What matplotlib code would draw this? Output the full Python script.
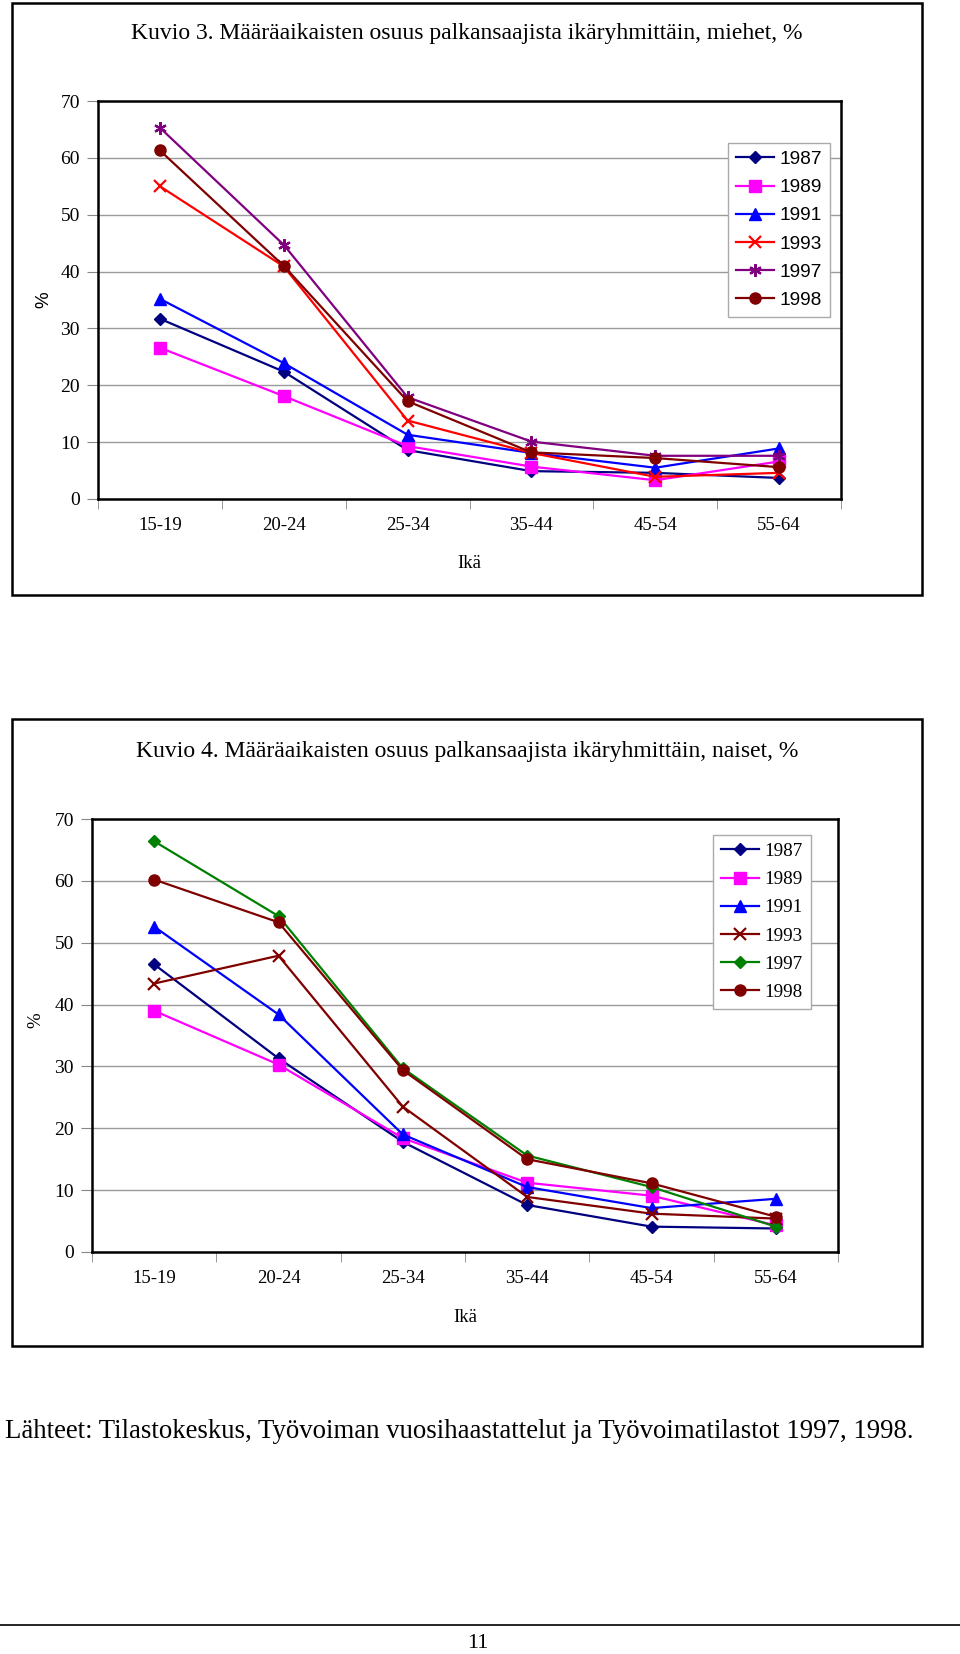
import numpy as np
import matplotlib.pyplot as plt
from matplotlib.patches import Rectangle
from matplotlib.lines import Line2D

# ikäryhmät ja vuodet
ages = ['15-19', '20-24', '25-34', '35-44', '45-54', '55-64']
years = ['1987', '1989', '1991', '1993', '1997', '1998']

# Kuvio 3: miehet, %
men_1987 = [31.7, 22.4, 8.6, 4.9, 4.6, 3.7]
men_1989 = [26.6, 18.1, 9.3, 5.7, 3.3, 6.6]
men_1991 = [35.2, 23.9, 11.3, 8.1, 5.5, 8.9]
men_1993 = [55.0, 40.9, 13.8, 8.1, 3.9, 4.6]
men_1997 = [65.3, 44.7, 17.9, 10.1, 7.6, 7.6]
men_1998 = [61.3, 41.0, 17.2, 8.2, 7.2, 5.6]

# Kuvio 4: naiset, %
women_1987 = [46.5, 31.3, 17.8, 7.6, 4.1, 3.8]
women_1989 = [39.0, 30.3, 18.4, 11.2, 9.1, 4.3]
women_1991 = [52.6, 38.4, 19.0, 10.5, 7.1, 8.6]
women_1993 = [43.4, 47.9, 23.5, 8.9, 6.2, 5.4]
women_1997 = [66.4, 54.3, 29.7, 15.6, 10.5, 4.1]
women_1998 = [60.2, 53.3, 29.4, 15.0, 11.1, 5.7]

men = [men_1987, men_1989, men_1991, men_1993, men_1997, men_1998]
women = [women_1987, women_1989, women_1991, women_1993, women_1997, women_1998]

# tyylit (väri, merkki, koko)
men_styles = [('#000080', 'D', 6), ('#ff00ff', 's', 8), ('#0000ff', '^', 8),
              ('#ff0000', 'x', 8), ('#800080', (6, 2, 0), 9), ('#800000', 'o', 8)]
women_styles = [('#000080', 'D', 6), ('#ff00ff', 's', 8), ('#0000ff', '^', 8),
                ('#800000', 'x', 8), ('#008000', 'D', 6), ('#800000', 'o', 8)]

W, H = 960, 1654
fig = plt.figure(figsize=(W / 100, H / 100), dpi=100)
serif = 'Liberation Serif'
sans = 'Liberation Sans'


def fx(px):
    return px / W


def fy(py):
    return 1 - py / H


def box(x0, y0, x1, y1):
    fig.patches.append(Rectangle((fx(x0), fy(y1)), fx(x1) - fx(x0), fy(y0) - fy(y1),
                                 transform=fig.transFigure, fill=False,
                                 edgecolor='black', linewidth=1.8))


def chart(left, top, right, bottom, data, styles, legend_font, leg_xy):
    ax = fig.add_axes([fx(left), fy(bottom), fx(right) - fx(left), fy(top) - fy(bottom)])
    x = np.arange(len(ages))
    for vals, (c, m, ms), y in zip(data, styles, years):
        mew = 1.6 if m in ('x', (6, 2, 0)) else 1
        ax.plot(x, vals, color=c, marker=m, markersize=ms, linewidth=1.6,
                markeredgewidth=mew, label=y)
    ax.set_xlim(-0.5, 5.5)
    ax.set_ylim(0, 70)
    ax.set_yticks(range(0, 71, 10))
    ax.set_xticks(x)
    ax.set_xticklabels(ages, family=serif, fontsize=13.5)
    ax.set_xticks(np.arange(-0.5, 6, 1), minor=True)
    ax.tick_params(axis='x', which='major', length=0, pad=13)
    ax.tick_params(axis='x', which='minor', length=7, color='#888888', direction='out')
    ax.tick_params(axis='y', length=8, color='#888888', pad=5, labelsize=14)
    for lab in ax.get_yticklabels():
        lab.set_family(serif)
    ax.grid(axis='y', color='#9a9a9a', linewidth=1)
    ax.set_axisbelow(True)
    for s in ax.spines.values():
        s.set_linewidth(1.8)
        s.set_color('black')
    leg = ax.legend(loc='upper left', bbox_to_anchor=(fx(leg_xy[0]), fy(leg_xy[1])),
                    bbox_transform=fig.transFigure, borderaxespad=0, fancybox=False,
                    edgecolor='#aaaaaa', framealpha=1, handlelength=2.0,
                    handletextpad=0.3, labelspacing=0.56, borderpad=0.4,
                    prop={'family': legend_font, 'size': 13.8})
    leg.get_frame().set_linewidth(1)
    return ax


# Kuvio 3
box(12, 3, 922, 595)
fig.text(fx(467), fy(34), 'Kuvio 3. Määräaikaisten osuus palkansaajista ikäryhmittäin, miehet, %',
         family=serif, fontsize=17, ha='center', va='center')
chart(98, 101, 841, 499, men, men_styles, sans, (728, 143))
fig.text(fx(44), fy(300), '%', family=sans, fontsize=13.5, rotation=90, ha='center', va='center')
fig.text(fx(469), fy(563), 'Ikä', family=serif, fontsize=13.5, ha='center', va='center')

# Kuvio 4
box(12, 719, 922, 1346)
fig.text(fx(467), fy(752), 'Kuvio 4. Määräaikaisten osuus palkansaajista ikäryhmittäin, naiset, %',
         family=serif, fontsize=17, ha='center', va='center')
chart(92, 819, 838, 1252, women, women_styles, serif, (713, 835))
fig.text(fx(36), fy(1020), '%', family=serif, fontsize=13.5, rotation=90, ha='center', va='center')
fig.text(fx(465), fy(1317), 'Ikä', family=serif, fontsize=13.5, ha='center', va='center')

# lähteet ja sivunumero
fig.text(fx(5), fy(1432), 'Lähteet: Tilastokeskus, Työvoiman vuosihaastattelut ja Työvoimatilastot 1997, 1998.',
         family=serif, fontsize=19.3, ha='left', va='center')
fig.lines.append(Line2D([0, 1], [fy(1625), fy(1625)], transform=fig.transFigure,
                        color='black', linewidth=1.2))
fig.text(fx(478), fy(1643), '11', family=serif, fontsize=16, ha='center', va='center')

fig.savefig('out.png', dpi=100)
